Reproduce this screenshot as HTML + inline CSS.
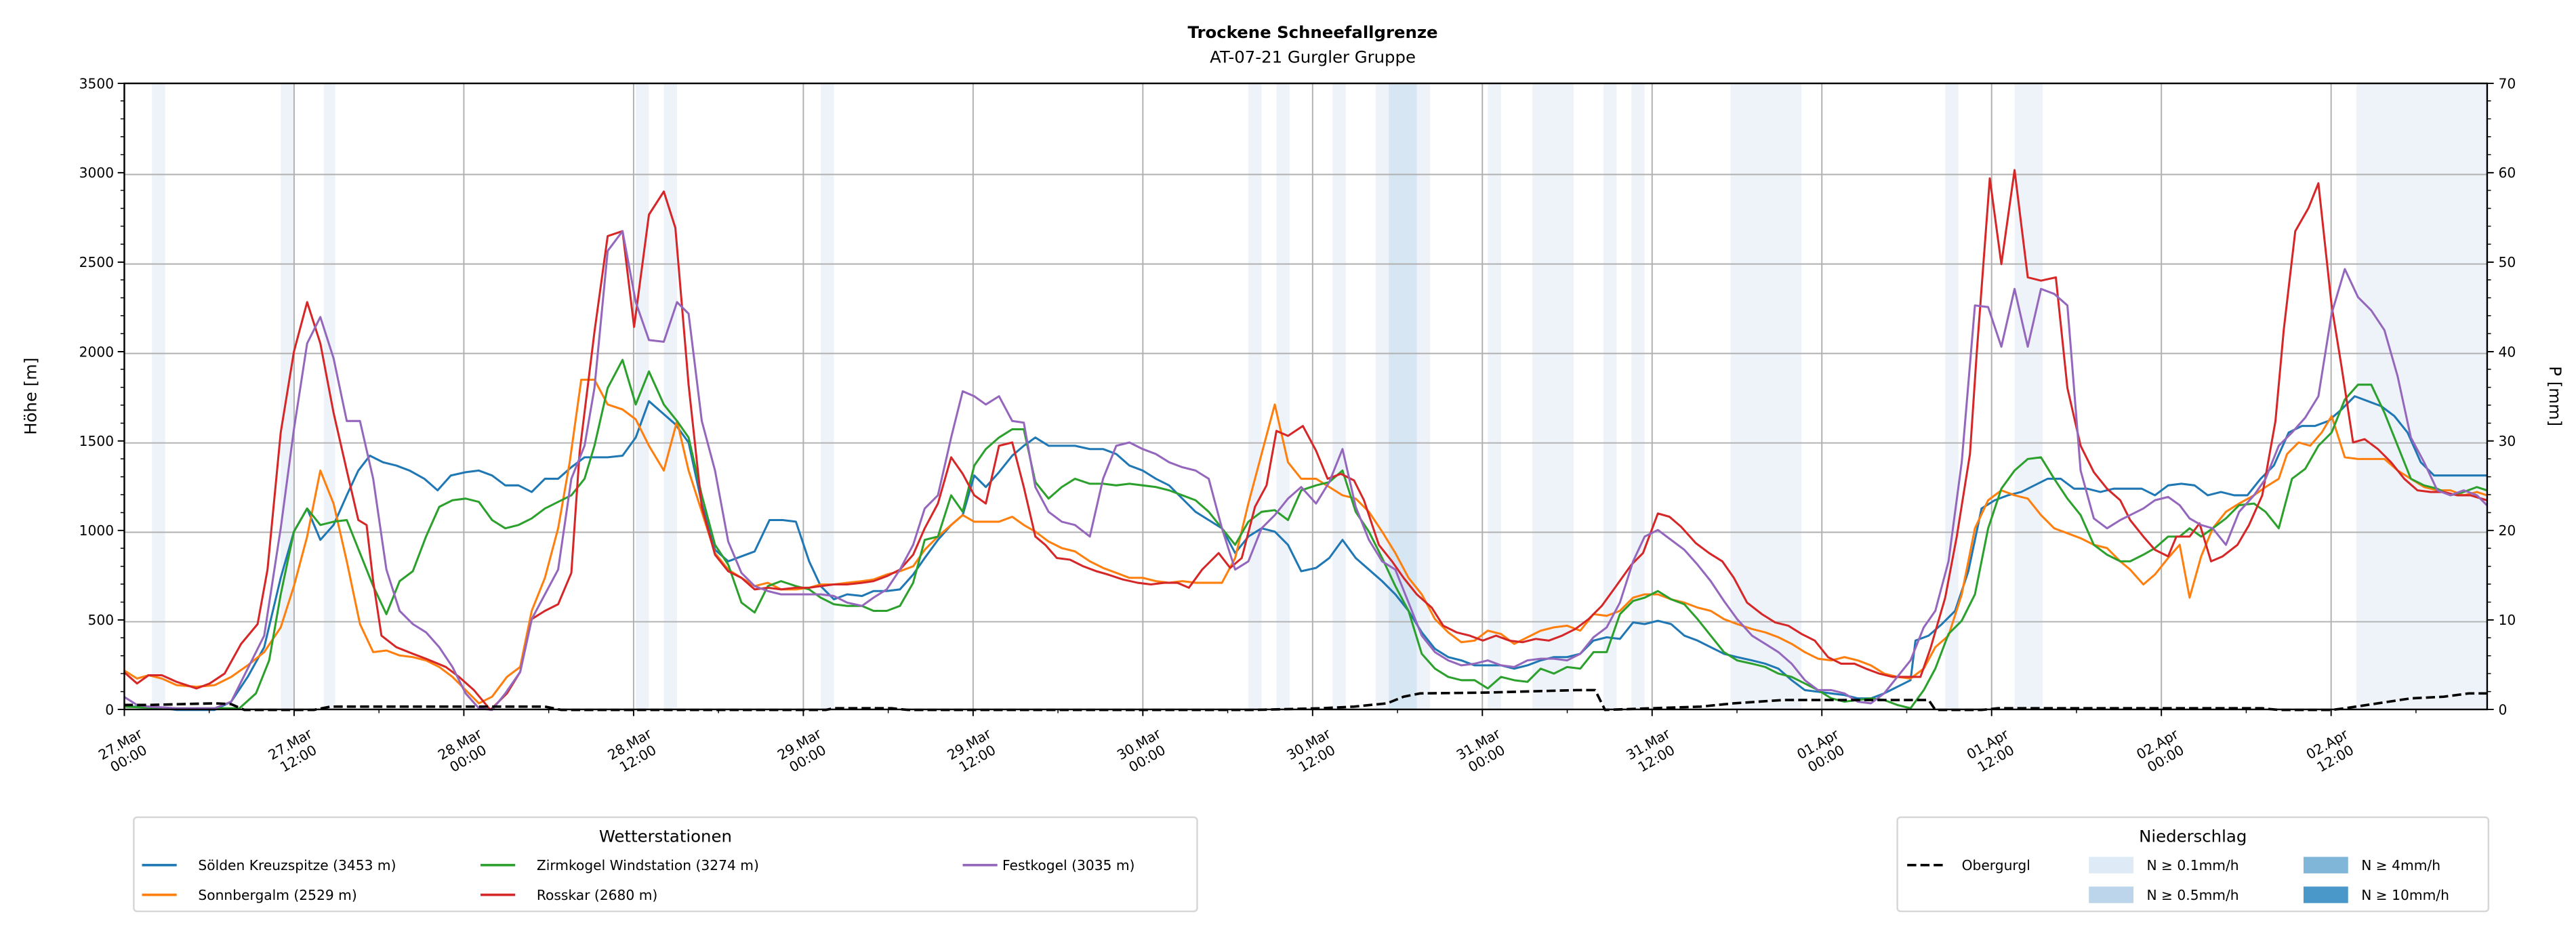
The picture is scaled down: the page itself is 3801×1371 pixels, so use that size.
<!DOCTYPE html>
<html><head><meta charset="utf-8"><style>
html,body{margin:0;padding:0;background:#fff;}
svg{display:block;font-family:"DejaVu Sans","Liberation Sans",sans-serif;}
</style></head><body>
<svg width="3801" height="1371" viewBox="0 0 1560 562.7" preserveAspectRatio="none" xmlns="http://www.w3.org/2000/svg">
<rect width="1560" height="562.7" fill="#fff"/>
<g fill="#eef3fa">
<rect x="92" y="50.5" width="8" height="379.2"/>
<rect x="170" y="50.5" width="8" height="379.2"/>
<rect x="196" y="50.5" width="7" height="379.2"/>
<rect x="385" y="50.5" width="8" height="379.2"/>
<rect x="402" y="50.5" width="8" height="379.2"/>
<rect x="497" y="50.5" width="8" height="379.2"/>
<rect x="756" y="50.5" width="8" height="379.2"/>
<rect x="773" y="50.5" width="8" height="379.2"/>
<rect x="807" y="50.5" width="8" height="379.2"/>
<rect x="833" y="50.5" width="33" height="379.2"/>
<rect x="901" y="50.5" width="8" height="379.2"/>
<rect x="928" y="50.5" width="25" height="379.2"/>
<rect x="971" y="50.5" width="8" height="379.2"/>
<rect x="988" y="50.5" width="8" height="379.2"/>
<rect x="1048" y="50.5" width="43" height="379.2"/>
<rect x="1178" y="50.5" width="8" height="379.2"/>
<rect x="1220" y="50.5" width="17" height="379.2"/>
<rect x="1427" y="50.5" width="79" height="379.2"/>
</g>
<rect x="841" y="50.5" width="17" height="379.2" fill="#d6e6f3"/>
<g stroke="#b0b0b0" stroke-width="0.8">
<line x1="75.3" x2="1506.2" y1="105.7" y2="105.7"/><line x1="75.3" x2="1506.2" y1="159.9" y2="159.9"/>
<line x1="75.3" x2="1506.2" y1="214.1" y2="214.1"/><line x1="75.3" x2="1506.2" y1="268.3" y2="268.3"/>
<line x1="75.3" x2="1506.2" y1="322.4" y2="322.4"/><line x1="75.3" x2="1506.2" y1="376.6" y2="376.6"/>
<line y1="50.5" y2="429.7" x1="178.1" x2="178.1"/><line y1="50.5" y2="429.7" x1="280.9" x2="280.9"/>
<line y1="50.5" y2="429.7" x1="383.7" x2="383.7"/><line y1="50.5" y2="429.7" x1="486.5" x2="486.5"/>
<line y1="50.5" y2="429.7" x1="589.3" x2="589.3"/><line y1="50.5" y2="429.7" x1="692.1" x2="692.1"/>
<line y1="50.5" y2="429.7" x1="794.9" x2="794.9"/><line y1="50.5" y2="429.7" x1="897.7" x2="897.7"/>
<line y1="50.5" y2="429.7" x1="1000.5" x2="1000.5"/><line y1="50.5" y2="429.7" x1="1103.3" x2="1103.3"/>
<line y1="50.5" y2="429.7" x1="1206.1" x2="1206.1"/><line y1="50.5" y2="429.7" x1="1308.9" x2="1308.9"/>
<line y1="50.5" y2="429.7" x1="1411.7" x2="1411.7"/>
</g>
<g fill="none" stroke-width="1.25" stroke-linejoin="round">
<polyline stroke="#1f77b4" points="75,428 90,428 107,430 130,430 140,425 150,410 160,392 170,350 178,322 186,308 194,327 202,318 210,300 217,285 224,276 232,280 240,282 248,285 257,290 265,297 273,288 282,286 290,285 298,288 306,294 314,294 322,298 330,290 338,290 346,283 354,277 360,277 368,277 377,276 385,265 393,243 401,250 409,257 417,268 425,305 433,333 441,340 449,337 457,334 466,315 474,315 482,316 490,340 497,355 505,363 513,360 522,361 529,358 537,358 545,357 553,348 560,338 568,327 576,318 583,312 590,288 597,295 605,286 613,276 620,270 627,265 635,270 643,270 651,270 660,272 668,272 676,275 684,282 692,285 700,290 708,294 716,302 724,310 732,315 740,320 748,335 756,325 764,320 772,322 780,330 788,346 797,344 805,338 813,327 821,338 829,345 837,352 845,360 853,370 861,383 869,393 877,398 885,400 893,403 901,403 909,403 917,405 925,403 933,400 941,398 949,398 957,396 965,388 973,386 981,387 989,377 996,378 1004,376 1012,378 1020,385 1028,388 1036,392 1044,396 1052,398 1061,400 1069,402 1077,405 1085,412 1093,418 1101,419 1109,420 1117,421 1125,423 1133,423 1141,420 1149,416 1157,412 1160,388 1168,385 1176,378 1184,370 1192,346 1200,308 1208,303 1216,300 1224,298 1232,294 1240,290 1248,290 1256,296 1264,296 1272,298 1280,296 1289,296 1297,296 1305,300 1313,294 1321,293 1329,294 1337,300 1345,298 1353,300 1361,300 1369,290 1377,282 1386,262 1394,258 1402,258 1410,255 1418,248 1426,240 1434,243 1442,246 1450,252 1458,262 1466,280 1474,288 1482,288 1490,288 1498,288 1506,288"/>
<polyline stroke="#ff7f0e" points="75,406 83,411 90,409 98,411 107,415 119,416 130,415 140,410 150,403 160,395 170,380 178,355 186,325 194,285 202,305 210,340 218,378 226,395 234,394 242,397 250,398 258,400 266,404 274,410 282,418 290,426 298,422 307,410 315,404 322,370 330,350 338,320 345,280 352,230 360,230 368,245 377,248 385,254 393,270 402,285 410,255 417,285 425,310 433,335 441,345 449,350 457,355 465,353 473,357 482,357 490,356 497,354 505,354 513,353 522,352 529,351 537,348 545,346 553,343 560,333 568,325 576,318 583,312 590,316 597,316 605,316 613,313 620,318 627,322 635,328 643,332 651,334 660,340 668,344 676,347 684,350 692,350 700,352 708,353 716,352 724,353 732,353 740,353 748,338 756,305 764,275 772,245 780,280 788,290 797,290 805,295 813,300 821,302 829,310 837,322 845,335 853,350 861,360 869,375 877,383 885,389 893,388 901,382 909,384 917,390 925,386 933,382 941,380 949,379 957,382 965,372 973,373 981,370 989,362 996,360 1004,360 1012,363 1020,365 1028,368 1036,370 1044,375 1052,378 1061,381 1069,383 1077,386 1085,390 1093,395 1101,399 1109,400 1117,398 1125,400 1133,403 1141,408 1149,410 1157,411 1165,405 1172,392 1180,385 1188,360 1196,320 1204,303 1212,297 1220,300 1228,302 1236,312 1244,320 1252,323 1260,326 1268,330 1276,332 1284,340 1290,345 1298,354 1305,348 1313,338 1320,330 1326,362 1333,337 1340,320 1348,310 1356,305 1365,300 1372,295 1380,290 1385,275 1392,268 1399,270 1406,262 1412,252 1420,277 1428,278 1436,278 1444,278 1452,285 1460,290 1468,295 1476,297 1484,297 1492,300 1500,298 1506,300"/>
<polyline stroke="#2ca02c" points="75,428 100,429 130,429 145,429 155,420 163,400 170,360 178,322 186,308 194,318 202,316 210,315 218,335 226,355 234,372 242,352 250,346 258,325 266,307 274,303 282,302 290,304 298,315 306,320 314,318 322,314 330,308 338,304 346,300 354,290 360,270 368,235 377,218 385,245 393,225 402,245 410,255 417,265 425,300 433,330 441,342 449,365 457,371 465,355 473,352 482,355 490,357 497,362 505,366 513,367 522,367 529,370 537,370 545,367 553,353 560,327 568,325 576,300 583,310 590,282 597,272 605,265 613,260 620,260 627,292 635,302 643,295 651,290 660,293 668,293 676,294 684,293 692,294 700,295 708,297 716,300 724,303 732,310 740,320 748,330 756,316 764,310 772,309 780,315 788,297 797,294 805,292 813,285 821,310 829,322 837,338 845,355 853,370 861,396 869,405 877,410 885,412 893,412 901,417 909,410 917,412 925,413 933,405 941,408 949,404 957,405 965,395 973,395 981,372 989,364 996,362 1004,358 1012,363 1020,366 1028,375 1036,385 1044,395 1052,400 1061,402 1069,404 1077,408 1085,410 1093,414 1101,418 1109,423 1117,425 1125,424 1133,423 1141,424 1149,427 1157,429 1165,418 1172,405 1180,384 1188,376 1196,360 1204,320 1212,296 1220,285 1228,278 1236,277 1244,290 1252,302 1260,312 1268,330 1276,336 1284,340 1290,340 1298,336 1305,332 1313,325 1320,325 1326,320 1333,325 1340,320 1348,314 1356,306 1365,305 1372,310 1380,320 1388,290 1396,284 1404,270 1412,262 1420,242 1428,233 1436,233 1444,250 1452,270 1460,290 1468,294 1476,296 1484,300 1492,298 1500,295 1506,297"/>
<polyline stroke="#d62728" points="75,407 83,414 90,409 98,409 107,413 119,417 127,414 136,408 146,390 156,378 162,345 170,262 178,213 186,183 194,208 202,250 210,285 217,315 222,318 226,352 231,385 240,392 250,396 258,399 270,404 278,410 287,418 297,430 307,420 315,407 322,375 330,370 338,366 346,347 351,274 360,201 368,143 377,140 384,198 393,130 402,116 409,138 417,233 425,307 433,336 441,346 449,350 457,357 465,356 473,357 482,356 490,356 497,355 505,354 513,354 522,353 529,352 537,349 545,345 553,336 560,320 568,305 576,277 583,287 590,300 597,305 605,270 613,268 620,295 627,325 633,330 640,338 648,339 656,343 664,346 671,348 680,351 689,353 697,354 705,353 713,353 720,356 728,345 738,335 745,344 752,338 760,307 767,294 773,261 780,264 789,258 797,273 804,290 812,287 820,291 826,303 835,330 843,340 850,350 858,360 867,368 874,379 882,383 890,385 898,388 906,385 914,388 922,389 930,387 938,388 946,385 954,381 962,375 970,367 978,356 988,342 995,335 1004,311 1011,313 1018,319 1027,329 1035,335 1043,340 1050,350 1058,365 1067,372 1075,377 1083,379 1091,384 1099,388 1107,398 1115,402 1123,402 1130,405 1138,408 1146,410 1155,410 1163,410 1169,393 1178,362 1185,325 1193,275 1197,215 1205,108 1212,160 1220,103 1228,168 1236,170 1245,168 1252,235 1260,270 1268,286 1276,296 1284,303 1290,315 1298,325 1305,333 1313,337 1318,325 1326,325 1332,317 1339,340 1346,337 1355,330 1362,318 1370,300 1378,255 1383,200 1390,140 1398,126 1404,111 1412,185 1418,222 1425,268 1432,266 1440,272 1448,280 1456,290 1464,297 1472,298 1480,298 1488,300 1496,300 1506,303"/>
<polyline stroke="#9467bd" points="75,422 83,427 90,428 107,429 130,429 140,425 150,405 160,385 170,320 178,260 186,208 194,192 202,217 210,255 218,255 226,290 234,345 242,370 250,378 258,383 266,392 274,404 282,420 290,429 298,430 306,420 315,407 322,375 330,360 338,345 346,290 354,270 360,235 368,152 377,140 385,183 393,206 402,207 410,183 417,190 425,255 433,285 441,328 449,347 457,355 465,358 473,360 482,360 490,360 497,360 505,361 513,365 522,367 529,362 537,357 545,345 553,330 560,308 568,300 576,265 583,237 590,240 597,245 605,240 613,255 620,256 627,295 635,310 643,316 651,318 660,325 668,290 676,270 684,268 692,272 700,275 708,280 716,283 724,285 732,290 740,320 748,345 756,340 764,320 772,312 780,302 788,295 797,305 805,292 813,272 821,307 829,327 837,340 845,345 853,365 861,385 869,395 877,400 885,403 893,402 901,400 909,403 917,404 925,400 933,399 941,399 949,400 957,396 965,386 973,380 981,365 989,340 996,325 1004,321 1012,327 1020,333 1028,342 1036,352 1044,364 1052,375 1061,385 1069,390 1077,395 1085,402 1093,412 1101,418 1109,418 1117,420 1125,425 1133,426 1141,420 1149,410 1157,400 1165,380 1172,370 1180,340 1188,280 1196,185 1204,186 1212,210 1220,175 1228,210 1236,175 1244,178 1252,185 1260,285 1268,314 1276,320 1284,315 1290,312 1298,308 1305,303 1313,301 1320,306 1326,314 1333,318 1340,320 1348,330 1356,310 1365,300 1372,290 1380,270 1388,262 1396,253 1404,240 1412,190 1420,163 1428,180 1436,188 1444,200 1452,228 1460,265 1468,280 1476,297 1484,300 1492,297 1500,300 1506,306"/>
<polyline stroke="#000" stroke-width="1.5" stroke-dasharray="5.5,2.5" points="75,427 90,427 130,426 140,426.5 148,430 170,430 190,430 200,428 210,428 330,428 340,430 500,430 505,429 540,429 550,430 760,430 800,429 820,428 840,426 850,422 860,420 900,419.5 955,418 966,418 972,430 1000,429 1030,428 1050,426 1080,424 1110,424 1150,424 1168,424 1172,430 1200,430 1210,429 1370,429 1380,430 1412,430 1420,429 1440,426 1460,423 1480,422 1495,420 1506,420"/>
</g>
<rect x="75.3" y="50.5" width="1430.9" height="379.2" fill="none" stroke="#000" stroke-width="1"/>
<g stroke="#000" stroke-width="0.8">
<path d="M75.3 429.7h-4M75.3 375.5h-4M75.3 321.3h-4M75.3 267.1h-4M75.3 213h-4M75.3 158.8h-4M75.3 104.6h-4M75.3 50.5h-4"/>
<path stroke-width="0.6" d="M75.3 418.9h-2.3M75.3 408h-2.3M75.3 397.2h-2.3M75.3 386.3h-2.3M75.3 364.7h-2.3M75.3 353.8h-2.3M75.3 343h-2.3M75.3 332.1h-2.3M75.3 310.5h-2.3M75.3 299.6h-2.3M75.3 288.8h-2.3M75.3 277.9h-2.3M75.3 256.3h-2.3M75.3 245.4h-2.3M75.3 234.6h-2.3M75.3 223.7h-2.3M75.3 202.1h-2.3M75.3 191.2h-2.3M75.3 180.4h-2.3M75.3 169.5h-2.3M75.3 147.9h-2.3M75.3 137h-2.3M75.3 126.2h-2.3M75.3 115.3h-2.3M75.3 93.7h-2.3M75.3 82.8h-2.3M75.3 72h-2.3M75.3 61.1h-2.3"/>
<path d="M1506.2 429.7h4M1506.2 375.5h4M1506.2 321.3h4M1506.2 267.1h4M1506.2 213h4M1506.2 158.8h4M1506.2 104.6h4M1506.2 50.5h4"/>
<path stroke-width="0.6" d="M1506.2 418.9h2.3M1506.2 408h2.3M1506.2 397.2h2.3M1506.2 386.3h2.3M1506.2 364.7h2.3M1506.2 353.8h2.3M1506.2 343h2.3M1506.2 332.1h2.3M1506.2 310.5h2.3M1506.2 299.6h2.3M1506.2 288.8h2.3M1506.2 277.9h2.3M1506.2 256.3h2.3M1506.2 245.4h2.3M1506.2 234.6h2.3M1506.2 223.7h2.3M1506.2 202.1h2.3M1506.2 191.2h2.3M1506.2 180.4h2.3M1506.2 169.5h2.3M1506.2 147.9h2.3M1506.2 137h2.3M1506.2 126.2h2.3M1506.2 115.3h2.3M1506.2 93.7h2.3M1506.2 82.8h2.3M1506.2 72h2.3M1506.2 61.1h2.3"/>
<path d="M75.3 429.7v4M178.1 429.7v4M280.9 429.7v4M383.7 429.7v4M486.5 429.7v4M589.3 429.7v4M692.1 429.7v4M794.9 429.7v4M897.7 429.7v4M1000.5 429.7v4M1103.3 429.7v4M1206.1 429.7v4M1308.9 429.7v4M1411.7 429.7v4"/>
<path stroke-width="0.6" d="M126.7 429.7v2.3M229.5 429.7v2.3M332.3 429.7v2.3M435.1 429.7v2.3M537.9 429.7v2.3M640.7 429.7v2.3M743.5 429.7v2.3M846.3 429.7v2.3M949.1 429.7v2.3M1051.9 429.7v2.3M1154.7 429.7v2.3M1257.5 429.7v2.3M1360.3 429.7v2.3M1463.1 429.7v2.3"/>
</g>
<g font-size="8.3" fill="#000" text-anchor="end">
<text x="69" y="432.7">0</text><text x="69" y="378.5">500</text><text x="69" y="324.3">1000</text><text x="69" y="270.1">1500</text><text x="69" y="216">2000</text><text x="69" y="161.8">2500</text><text x="69" y="107.6">3000</text><text x="69" y="53.5">3500</text>
</g>
<g font-size="8.3" fill="#000">
<text x="1513" y="432.7">0</text><text x="1513" y="378.5">10</text><text x="1513" y="324.3">20</text><text x="1513" y="270.1">30</text><text x="1513" y="216">40</text><text x="1513" y="161.8">50</text><text x="1513" y="107.6">60</text><text x="1513" y="53.5">70</text>
</g>
<g font-size="8.3" fill="#000" text-anchor="middle">
<g transform="translate(75.3,455) rotate(-30)"><text y="-2">27.Mar</text><text y="8">00:00</text></g>
<g transform="translate(178.1,455) rotate(-30)"><text y="-2">27.Mar</text><text y="8">12:00</text></g>
<g transform="translate(280.9,455) rotate(-30)"><text y="-2">28.Mar</text><text y="8">00:00</text></g>
<g transform="translate(383.7,455) rotate(-30)"><text y="-2">28.Mar</text><text y="8">12:00</text></g>
<g transform="translate(486.5,455) rotate(-30)"><text y="-2">29.Mar</text><text y="8">00:00</text></g>
<g transform="translate(589.3,455) rotate(-30)"><text y="-2">29.Mar</text><text y="8">12:00</text></g>
<g transform="translate(692.1,455) rotate(-30)"><text y="-2">30.Mar</text><text y="8">00:00</text></g>
<g transform="translate(794.9,455) rotate(-30)"><text y="-2">30.Mar</text><text y="8">12:00</text></g>
<g transform="translate(897.7,455) rotate(-30)"><text y="-2">31.Mar</text><text y="8">00:00</text></g>
<g transform="translate(1000.5,455) rotate(-30)"><text y="-2">31.Mar</text><text y="8">12:00</text></g>
<g transform="translate(1103.3,455) rotate(-30)"><text y="-2">01.Apr</text><text y="8">00:00</text></g>
<g transform="translate(1206.1,455) rotate(-30)"><text y="-2">01.Apr</text><text y="8">12:00</text></g>
<g transform="translate(1308.9,455) rotate(-30)"><text y="-2">02.Apr</text><text y="8">00:00</text></g>
<g transform="translate(1411.7,455) rotate(-30)"><text y="-2">02.Apr</text><text y="8">12:00</text></g>
</g>
<text x="22" y="240" font-size="10" text-anchor="middle" transform="rotate(-90 22 240)">Höhe [m]</text>
<text x="1544" y="240" font-size="10" text-anchor="middle" transform="rotate(90 1544 240)">P [mm]</text>
<text x="795" y="23" font-size="10" font-weight="bold" text-anchor="middle">Trockene Schneefallgrenze</text>
<text x="795" y="38" font-size="10" text-anchor="middle">AT-07-21 Gurgler Gruppe</text>
<rect x="81" y="495" width="644" height="57" rx="2" fill="#fff" stroke="#d6d6d6" stroke-width="1"/>
<text x="403" y="510" font-size="10" text-anchor="middle">Wetterstationen</text>
<g stroke-width="1.5">
<line x1="86" x2="107" y1="524" y2="524" stroke="#1f77b4"/><line x1="86" x2="107" y1="542" y2="542" stroke="#ff7f0e"/>
<line x1="291" x2="312" y1="524" y2="524" stroke="#2ca02c"/><line x1="291" x2="312" y1="542" y2="542" stroke="#d62728"/>
<line x1="583" x2="604" y1="524" y2="524" stroke="#9467bd"/>
</g>
<g font-size="8.3">
<text x="120" y="527">Sölden Kreuzspitze (3453 m)</text><text x="120" y="545">Sonnbergalm (2529 m)</text>
<text x="325" y="527">Zirmkogel Windstation (3274 m)</text><text x="325" y="545">Rosskar (2680 m)</text>
<text x="607" y="527">Festkogel (3035 m)</text>
</g>
<rect x="1149" y="495" width="358" height="57" rx="2" fill="#fff" stroke="#d6d6d6" stroke-width="1"/>
<text x="1328" y="510" font-size="10" text-anchor="middle">Niederschlag</text>
<line x1="1155" x2="1178" y1="524" y2="524" stroke="#000" stroke-width="1.5" stroke-dasharray="5.5,2.5"/>
<rect x="1265" y="519" width="27" height="10" fill="#deebf7"/>
<rect x="1265" y="537" width="27" height="10" fill="#bcd5ea"/>
<rect x="1395" y="519" width="27" height="10" fill="#80b7d8"/>
<rect x="1395" y="537" width="27" height="10" fill="#4a97c9"/>
<g font-size="8.3">
<text x="1188" y="527">Obergurgl</text>
<text x="1300" y="527">N ≥ 0.1mm/h</text><text x="1300" y="545">N ≥ 0.5mm/h</text>
<text x="1430" y="527">N ≥ 4mm/h</text><text x="1430" y="545">N ≥ 10mm/h</text>
</g>
</svg>
</body></html>
